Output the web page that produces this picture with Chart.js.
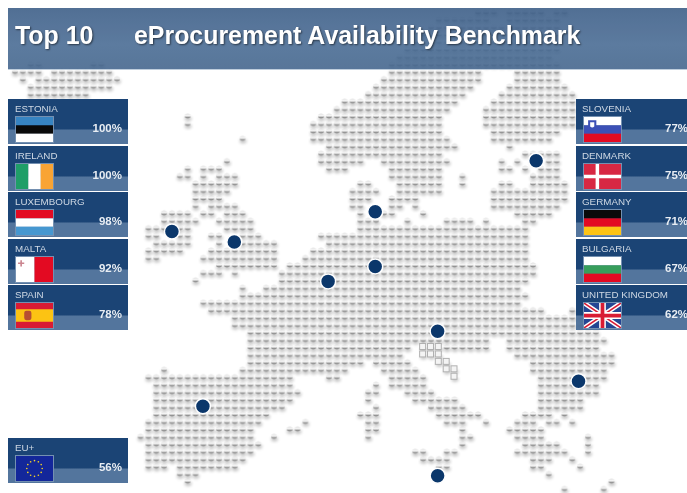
<!DOCTYPE html>
<html>
<head>
<meta charset="utf-8">
<title>eProcurement Availability Benchmark</title>
<script src="https://cdn.jsdelivr.net/npm/chart.js@4"></script>
<style>
  html, body { margin: 0; padding: 0; background: #fff; overflow: hidden; }
  body { width: 687px; height: 493px; position: relative; font-family: "Liberation Sans", Arial, sans-serif; }
  #map { position: absolute; left: 0; top: 0; filter: blur(0.6px); }
  #header {
    position: absolute; left: 8px; top: 8px; width: 679px; height: 61px;
    background: linear-gradient(#3f6089, #4b6d95 60%, #46688f);
    opacity: 0.9; border-bottom: 1px solid #b9c9da;
  }
  .title {
    position: absolute; top: 21px; color: #fff; font-weight: bold; font-size: 24.9px; line-height: 28px;
    text-shadow: 1px 1px 2px rgba(0,0,0,.55); white-space: nowrap;
  }
  .panel {
    position: absolute; height: 45px;
    background: linear-gradient(#123d70 0, #123d70 30px, #4d7099 31px, #4d7099 100%);
    opacity: 0.96; overflow: hidden; filter: blur(0.25px);
  }
  .panel .name { position: absolute; top: 4px; font-size: 9.8px; line-height: 12px; color: #cdd7e3; white-space: nowrap; }
  .panel .val { position: absolute; top: 23px; font-size: 11.5px; line-height: 13px; font-weight: bold; color: #e8edf3; }
  .panel svg { position: absolute; top: 18px; width: 37px; height: 25px; outline: 1px solid #6f8cae; filter: blur(0.3px); }
</style>
</head>
<body>
<canvas id="map" width="687" height="493"></canvas>
<div id="header"></div>
<div class="title" style="left:15px">Top 10</div>
<div class="title" style="left:134px">eProcurement Availability Benchmark</div>
<div id="panels"></div>

<script>
// ── Data ───────────────────────────────────────────────────
const leftNames   = ["ESTONIA", "IRELAND", "LUXEMBOURG", "MALTA", "SPAIN"];
const leftValues  = [100, 100, 98, 92, 78];
const rightNames  = ["SLOVENIA", "DENMARK", "GERMANY", "BULGARIA", "UNITED KINGDOM"];
const rightValues = [77, 75, 71, 67, 62];
const euName  = "EU+";
const euValue = 56;

// capital markers, in map grid units (column, row)
const markerCols = [66.4, 20.0, 27.95, 45.9, 39.9, 45.9, 53.85, 71.8, 23.95, 53.85];
const markerRows = [20.0, 29.5, 30.9, 26.85, 36.2, 34.2, 42.9, 49.6, 52.95, 62.3];

// dot map: one string per grid row, each holding column spans
const mapRows = [
  "59-61 63-67 69-70", "54-60 63-69", "53-69", "52-69", "51-69", "50-69", "49-68",
  "2-3 10-11 48-69", "0-3 5-12 48-59 64-69", "1 3-13 47-59 64-69", "2-12 46-58 63-70",
  "2-9 45-57 62-71", "42-56 61-71", "41-55 60-71", "22 39-54 60-71", "22 38-54 60-71",
  "38-54 61-69", "29 38-55 61-68", "40-56 63", "39-54 65-69",
  "27 39-44 47-55 62 64 66 68-69", "22 24-26 40-42 48-54 62-63 65 67-69",
  "21-22 24 26-28 48-54 57 66-69", "23-28 44-45 49-54 57 62-63 66-70",
  "23-27 43-46 49-54 61-70", "23-26 43-45 48-51 61-70", "23 25-28 43-44 48-49 51 61-69",
  "19-22 24-25 27-29 44 47-48 52 64-68", "19-23 26-30 44-46 50 55-58 60 65-66",
  "17-22 27-30 44-65", "17-18 21-22 25-26 29-31 39-65", "18-22 26 29-33 40-65",
  "17-21 25-33 38-65", "17-18 24-33 37-65", "26-33 35-66", "24-26 28 34-66", "23 34-65",
  "29 32-64", "29-65", "24-64", "25-67 71", "28-73", "28-74", "30-74", "30-60 63-75",
  "30-50 55-60 63-74", "30-49 64-76", "30-44 46-50 66-76", "19 29-42 47-51 66-75",
  "17-35 40-41 48-52 67-75", "18-35 46 48-52 67-74", "18-36 45-46 50-53 67-74",
  "18-35 45 51-56 67-72", "18-34 46 53-57 67-72", "18-32 44-46 54-59 65-68 70",
  "17-31 37 45-46 55-57 60 64-66 68-69 71", "17-30 35-36 45-46 57 63-67",
  "16-30 33 45 57-58 64-67 73", "17-31 57 65-69 73", "17-30 51-52 55-56 64-70 73",
  "17-29 52-55 66-68 71", "17-19 21-28 54-55 66-67 72", "21-23 68", "22 76", "70 75",
];

// the pale outlined tiles off the Adriatic coast, same format (first row is 45)
const tileStartRow = 45;
const tileRows = ["52-54", "52-54", "54-55", "55-56", "56"];

// ── Flags ──────────────────────────────────────────────────
function bands(colors, vertical) {
  const n = colors.length;
  return colors.map((c, i) => vertical
    ? `<rect x="${i * 36 / n}" y="0" width="${36 / n + 0.2}" height="24" fill="${c}"/>`
    : `<rect x="0" y="${i * 24 / n}" width="36" height="${24 / n + 0.2}" fill="${c}"/>`).join("");
}

function euStars() {
  let out = `<rect width="36" height="24" fill="#0a1f96"/>`;
  for (let i = 0; i < 12; i++) {
    const a = i * Math.PI / 6;
    out += `<circle cx="${18 + 7.5 * Math.cos(a)}" cy="${12 + 7.5 * Math.sin(a)}" r="0.8" fill="#f4d21c"/>`;
  }
  return out;
}

const flags = {
  ESTONIA: bands(["#2f7fc0", "#000", "#fff"]),
  IRELAND: bands(["#169b62", "#fff", "#f9a12c"], true),
  LUXEMBOURG: bands(["#e2001a", "#fff", "#3f93cf"]),
  MALTA: bands(["#fff", "#e2001a"], true) + `<path d="M5 3v6M2 6h6" stroke="#c9828c" stroke-width="1.6"/>`,
  SPAIN: `<rect width="36" height="24" fill="#d8122c"/><rect y="6" width="36" height="12" fill="#fcc10a"/>` +
         `<rect x="8" y="7.5" width="7" height="9" rx="2" fill="#b5482a"/>`,
  SLOVENIA: bands(["#fff", "#3549b4", "#e2001a"]) +
            `<path d="M4 3h8v6q-4 5-8 0z" fill="#3549b4"/><path d="M6 5h4v4q-2 2-4 0z" fill="#fff"/>`,
  DENMARK: `<rect width="36" height="24" fill="#d6203c"/><path d="M13 0v24M0 12h36" stroke="#fff" stroke-width="3.4"/>`,
  GERMANY: bands(["#000", "#e2001a", "#fdc20c"]),
  BULGARIA: bands(["#fff", "#2f9b55", "#e2001a"]),
  "UNITED KINGDOM": `<rect width="36" height="24" fill="#1d3f8f"/>` +
    `<path d="M0 0L36 24M36 0L0 24" stroke="#fff" stroke-width="4.4"/>` +
    `<path d="M0 0L36 24M36 0L0 24" stroke="#d8122c" stroke-width="1.4"/>` +
    `<path d="M18 0v24M0 12h36" stroke="#fff" stroke-width="6.5"/>` +
    `<path d="M18 0v24M0 12h36" stroke="#d8122c" stroke-width="3.6"/>`,
  "EU+": euStars(),
};

// ── Panels ─────────────────────────────────────────────────
const panelsEl = document.getElementById("panels");

function addPanel(name, value, top, side) {
  const left = side === "left";
  const box = left ? "left:8px;width:120px" : "left:576px;width:111px";
  const nameX = left ? 7 : 6;
  const flagX = 8;
  const valPos = left ? "right:6px" : "left:89px";
  panelsEl.insertAdjacentHTML("beforeend",
    `<div class="panel" style="${box};top:${top}px">` +
    `<span class="name" style="left:${nameX}px">${name}</span>` +
    `<svg viewBox="0 0 36 24" preserveAspectRatio="none" style="left:${flagX}px">${flags[name]}</svg>` +
    `<span class="val" style="${valPos}">${value}%</span></div>`);
}

const panelTops = [99, 146, 192, 239, 285];
leftNames.forEach((n, i) => addPanel(n, leftValues[i], panelTops[i], "left"));
rightNames.forEach((n, i) => addPanel(n, rightValues[i], panelTops[i], "right"));
addPanel(euName, euValue, 438, "left");

// ── Dot sprites ────────────────────────────────────────────
function makeSprite(drawDot) {
  const c = document.createElement("canvas");
  c.width = 16;
  c.height = 16;
  const g = c.getContext("2d");
  g.filter = "blur(1.5px)";
  g.fillStyle = "rgba(0,0,0,0.22)";
  g.beginPath();
  g.ellipse(8.5, 10.8, 3.6, 2.4, 0, 0, Math.PI * 2);
  g.fill();
  g.filter = "none";
  drawDot(g);
  return c;
}

const dotSprite = makeSprite((g) => {
  const grad = g.createLinearGradient(0, 5.8, 0, 10.2);
  grad.addColorStop(0, "#d0d0d0");
  grad.addColorStop(0.3, "#ffffff");
  grad.addColorStop(0.55, "#dedede");
  grad.addColorStop(1, "#6a6a6a");
  g.fillStyle = grad;
  g.beginPath();
  g.roundRect(5, 5.8, 6, 4.4, 2);
  g.fill();
});

const tileSprite = makeSprite((g) => {
  g.fillStyle = "#f4f4f4";
  g.strokeStyle = "#b0b0b0";
  g.lineWidth = 1;
  g.fillRect(4.5, 4.5, 6, 6);
  g.strokeRect(4.5, 4.5, 6, 6);
});

// ── Grid rows → points ─────────────────────────────────────
function rowsToPoints(rows, startRow) {
  const pts = [];
  rows.forEach((row, r) => {
    row.split(" ").forEach((span) => {
      const [a, b] = span.split("-").map(Number);
      for (let c = a; c <= (b === undefined ? a : b); c++) pts.push({ x: c, y: r + startRow });
    });
  });
  return pts;
}

// ── Chart ──────────────────────────────────────────────────
const CELL_W = 7.85, CELL_H = 7.45, ORIGIN_X = 14.9, ORIGIN_Y = 11.7;

new Chart(document.getElementById("map"), {
  type: "scatter",
  data: {
    datasets: [
      {
        label: "Top 10 countries",
        data: markerCols.map((c, i) => ({ x: c, y: markerRows[i] })),
        pointRadius: 7.5,
        pointBackgroundColor: "#0b376b",
        pointBorderColor: "#ffffff",
        pointBorderWidth: 1.5,
        order: 0,
      },
      {
        label: "Tiles",
        data: rowsToPoints(tileRows, tileStartRow),
        pointStyle: tileSprite,
        order: 1,
      },
      {
        label: "Map",
        data: rowsToPoints(mapRows, 0),
        pointStyle: dotSprite,
        order: 2,
      },
    ],
  },
  options: {
    responsive: false,
    animation: false,
    events: [],
    layout: { padding: 0, autoPadding: false },
    plugins: { legend: { display: false }, tooltip: { enabled: false } },
    scales: {
      x: { type: "linear", display: false, min: -ORIGIN_X / CELL_W, max: (687 - ORIGIN_X) / CELL_W },
      y: { type: "linear", display: false, reverse: true, min: -ORIGIN_Y / CELL_H, max: (493 - ORIGIN_Y) / CELL_H },
    },
  },
});
</script>
</body>
</html>
